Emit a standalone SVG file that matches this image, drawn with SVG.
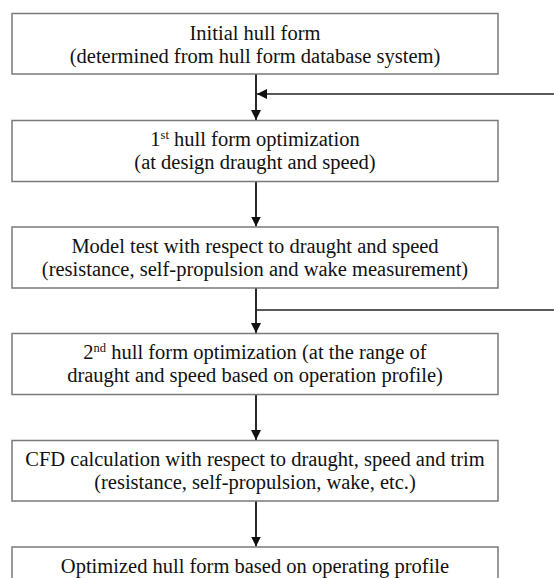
<svg xmlns="http://www.w3.org/2000/svg" width="554" height="578" viewBox="0 0 554 578">
<style>
.box{fill:#fff;stroke:#7a7a7a;stroke-width:1.5}
.t{font-family:'Liberation Serif','Times New Roman',serif;font-size:20.5px;fill:#111;text-anchor:middle}
.sup{font-size:12.5px}
.v{stroke:#111;stroke-width:1.8;fill:none}
.h{stroke:#222;stroke-width:1.4;fill:none}
</style>
<defs>
<marker id="ah" markerWidth="10" markerHeight="10" refX="10" refY="5" orient="auto" markerUnits="userSpaceOnUse">
<path d="M0,0 L10,5 L0,10 Z" fill="#111"/>
</marker>
</defs>
<rect width="554" height="578" fill="#fff"/>
<g id="connectors">
<line class="v" x1="256" y1="74" x2="256" y2="120" marker-end="url(#ah)"/>
<line class="h" x1="554" y1="94" x2="257" y2="94" marker-end="url(#ah)"/>
<line class="v" x1="256" y1="182" x2="256" y2="226.5" marker-end="url(#ah)"/>
<line class="v" x1="256" y1="288" x2="256" y2="333" marker-end="url(#ah)"/>
<line class="h" x1="256" y1="310" x2="554" y2="310"/>
<line class="v" x1="256" y1="394" x2="256" y2="440" marker-end="url(#ah)"/>
<line class="v" x1="256" y1="501" x2="256" y2="546.5" marker-end="url(#ah)"/>
</g>
<g id="n1">
<rect class="box" x="12" y="13.5" width="486" height="60.5"/>
<text class="t" x="255" y="40">Initial hull form</text>
<text class="t" x="255" y="63">(determined from hull form database system)</text>
</g>
<g id="n2">
<rect class="box" x="12" y="120.5" width="486" height="61"/>
<text class="t" x="255" y="146">1<tspan class="sup" dy="-7">st</tspan><tspan dy="7"> hull form optimization</tspan></text>
<text class="t" x="255" y="169">(at design draught and speed)</text>
</g>
<g id="n3">
<rect class="box" x="12" y="227" width="486" height="61"/>
<text class="t" x="255" y="253">Model test with respect to draught and speed</text>
<text class="t" x="255" y="276">(resistance, self-propulsion and wake measurement)</text>
</g>
<g id="n4">
<rect class="box" x="12" y="333.5" width="486" height="61"/>
<text class="t" x="255" y="359">2<tspan class="sup" dy="-7">nd</tspan><tspan dy="7"> hull form optimization (at the range of</tspan></text>
<text class="t" x="255" y="382">draught and speed based on operation profile)</text>
</g>
<g id="n5">
<rect class="box" x="12" y="440.5" width="486" height="60.5"/>
<text class="t" x="255" y="466">CFD calculation with respect to draught, speed and trim</text>
<text class="t" x="255" y="489">(resistance, self-propulsion, wake, etc.)</text>
</g>
<g id="n6">
<rect class="box" x="12" y="547" width="486" height="40"/>
<text class="t" x="255" y="573">Optimized hull form based on operating profile</text>
</g>
</svg>
